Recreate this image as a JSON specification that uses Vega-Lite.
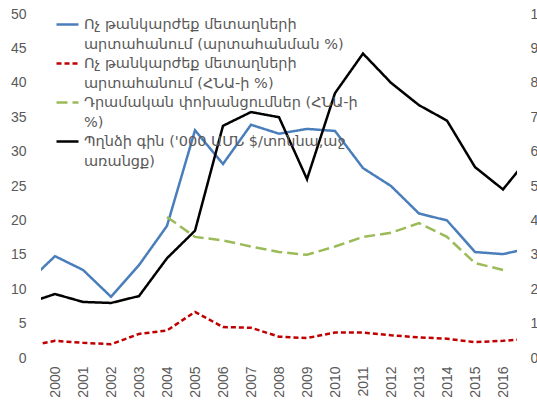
{
  "$schema": "https://vega.github.io/schema/vega-lite/v6.json",
  "width": 476,
  "height": 344,
  "autosize": {"type": "none"},
  "padding": {"left": 41, "top": 14, "right": 20, "bottom": 46},
  "background": "white",
  "config": {
    "view": {"stroke": null},
    "font": "Liberation Sans",
    "axis": {"labelColor": "#595959", "labelFontSize": 14, "labelFont": "Liberation Sans", "domain": false, "ticks": false, "grid": false, "title": null}
  },
  "data": {"values": [
    {"year": 1999, "series": "Ոչ թանկարժեք մետաղների արտահանում (արտահանման %)", "value": 10.9},
    {"year": 2000, "series": "Ոչ թանկարժեք մետաղների արտահանում (արտահանման %)", "value": 14.8},
    {"year": 2001, "series": "Ոչ թանկարժեք մետաղների արտահանում (արտահանման %)", "value": 12.8},
    {"year": 2002, "series": "Ոչ թանկարժեք մետաղների արտահանում (արտահանման %)", "value": 8.9},
    {"year": 2003, "series": "Ոչ թանկարժեք մետաղների արտահանում (արտահանման %)", "value": 13.5},
    {"year": 2004, "series": "Ոչ թանկարժեք մետաղների արտահանում (արտահանման %)", "value": 19.2},
    {"year": 2005, "series": "Ոչ թանկարժեք մետաղների արտահանում (արտահանման %)", "value": 33.1},
    {"year": 2006, "series": "Ոչ թանկարժեք մետաղների արտահանում (արտահանման %)", "value": 28.2},
    {"year": 2007, "series": "Ոչ թանկարժեք մետաղների արտահանում (արտահանման %)", "value": 33.9},
    {"year": 2008, "series": "Ոչ թանկարժեք մետաղների արտահանում (արտահանման %)", "value": 32.6},
    {"year": 2009, "series": "Ոչ թանկարժեք մետաղների արտահանում (արտահանման %)", "value": 33.3},
    {"year": 2010, "series": "Ոչ թանկարժեք մետաղների արտահանում (արտահանման %)", "value": 33.0},
    {"year": 2011, "series": "Ոչ թանկարժեք մետաղների արտահանում (արտահանման %)", "value": 27.6},
    {"year": 2012, "series": "Ոչ թանկարժեք մետաղների արտահանում (արտահանման %)", "value": 25.0},
    {"year": 2013, "series": "Ոչ թանկարժեք մետաղների արտահանում (արտահանման %)", "value": 21.0},
    {"year": 2014, "series": "Ոչ թանկարժեք մետաղների արտահանում (արտահանման %)", "value": 20.0},
    {"year": 2015, "series": "Ոչ թանկարժեք մետաղների արտահանում (արտահանման %)", "value": 15.4},
    {"year": 2016, "series": "Ոչ թանկարժեք մետաղների արտահանում (արտահանման %)", "value": 15.1},
    {"year": 2017, "series": "Ոչ թանկարժեք մետաղների արտահանում (արտահանման %)", "value": 16.0},
    {"year": 1999, "series": "Ոչ թանկարժեք մետաղների արտահանում (ՀՆԱ-ի %)", "value": 1.7},
    {"year": 2000, "series": "Ոչ թանկարժեք մետաղների արտահանում (ՀՆԱ-ի %)", "value": 2.5},
    {"year": 2001, "series": "Ոչ թանկարժեք մետաղների արտահանում (ՀՆԱ-ի %)", "value": 2.2},
    {"year": 2002, "series": "Ոչ թանկարժեք մետաղների արտահանում (ՀՆԱ-ի %)", "value": 2.0},
    {"year": 2003, "series": "Ոչ թանկարժեք մետաղների արտահանում (ՀՆԱ-ի %)", "value": 3.5},
    {"year": 2004, "series": "Ոչ թանկարժեք մետաղների արտահանում (ՀՆԱ-ի %)", "value": 4.0},
    {"year": 2005, "series": "Ոչ թանկարժեք մետաղների արտահանում (ՀՆԱ-ի %)", "value": 6.7},
    {"year": 2006, "series": "Ոչ թանկարժեք մետաղների արտահանում (ՀՆԱ-ի %)", "value": 4.5},
    {"year": 2007, "series": "Ոչ թանկարժեք մետաղների արտահանում (ՀՆԱ-ի %)", "value": 4.4},
    {"year": 2008, "series": "Ոչ թանկարժեք մետաղների արտահանում (ՀՆԱ-ի %)", "value": 3.1},
    {"year": 2009, "series": "Ոչ թանկարժեք մետաղների արտահանում (ՀՆԱ-ի %)", "value": 2.9},
    {"year": 2010, "series": "Ոչ թանկարժեք մետաղների արտահանում (ՀՆԱ-ի %)", "value": 3.7},
    {"year": 2011, "series": "Ոչ թանկարժեք մետաղների արտահանում (ՀՆԱ-ի %)", "value": 3.7},
    {"year": 2012, "series": "Ոչ թանկարժեք մետաղների արտահանում (ՀՆԱ-ի %)", "value": 3.3},
    {"year": 2013, "series": "Ոչ թանկարժեք մետաղների արտահանում (ՀՆԱ-ի %)", "value": 3.0},
    {"year": 2014, "series": "Ոչ թանկարժեք մետաղների արտահանում (ՀՆԱ-ի %)", "value": 2.8},
    {"year": 2015, "series": "Ոչ թանկարժեք մետաղների արտահանում (ՀՆԱ-ի %)", "value": 2.3},
    {"year": 2016, "series": "Ոչ թանկարժեք մետաղների արտահանում (ՀՆԱ-ի %)", "value": 2.5},
    {"year": 2017, "series": "Ոչ թանկարժեք մետաղների արտահանում (ՀՆԱ-ի %)", "value": 2.8},
    {"year": 2004, "series": "Դրամական փոխանցումներ (ՀՆԱ-ի %)", "value": 20.5},
    {"year": 2005, "series": "Դրամական փոխանցումներ (ՀՆԱ-ի %)", "value": 17.6},
    {"year": 2006, "series": "Դրամական փոխանցումներ (ՀՆԱ-ի %)", "value": 17.1},
    {"year": 2007, "series": "Դրամական փոխանցումներ (ՀՆԱ-ի %)", "value": 16.2},
    {"year": 2008, "series": "Դրամական փոխանցումներ (ՀՆԱ-ի %)", "value": 15.4},
    {"year": 2009, "series": "Դրամական փոխանցումներ (ՀՆԱ-ի %)", "value": 15.0},
    {"year": 2010, "series": "Դրամական փոխանցումներ (ՀՆԱ-ի %)", "value": 16.2},
    {"year": 2011, "series": "Դրամական փոխանցումներ (ՀՆԱ-ի %)", "value": 17.6},
    {"year": 2012, "series": "Դրամական փոխանցումներ (ՀՆԱ-ի %)", "value": 18.2},
    {"year": 2013, "series": "Դրամական փոխանցումներ (ՀՆԱ-ի %)", "value": 19.6},
    {"year": 2014, "series": "Դրամական փոխանցումներ (ՀՆԱ-ի %)", "value": 17.6},
    {"year": 2015, "series": "Դրամական փոխանցումներ (ՀՆԱ-ի %)", "value": 13.8},
    {"year": 2016, "series": "Դրամական փոխանցումներ (ՀՆԱ-ի %)", "value": 12.8},
    {"year": 1999, "series": "Պղնձի գին ('000 ԱՄՆ $/տոննա,աջ առանցք)", "value": 1.59},
    {"year": 2000, "series": "Պղնձի գին ('000 ԱՄՆ $/տոննա,աջ առանցք)", "value": 1.86},
    {"year": 2001, "series": "Պղնձի գին ('000 ԱՄՆ $/տոննա,աջ առանցք)", "value": 1.63},
    {"year": 2002, "series": "Պղնձի գին ('000 ԱՄՆ $/տոննա,աջ առանցք)", "value": 1.6},
    {"year": 2003, "series": "Պղնձի գին ('000 ԱՄՆ $/տոննա,աջ առանցք)", "value": 1.8},
    {"year": 2004, "series": "Պղնձի գին ('000 ԱՄՆ $/տոննա,աջ առանցք)", "value": 2.9},
    {"year": 2005, "series": "Պղնձի գին ('000 ԱՄՆ $/տոննա,աջ առանցք)", "value": 3.7},
    {"year": 2006, "series": "Պղնձի գին ('000 ԱՄՆ $/տոննա,աջ առանցք)", "value": 6.75},
    {"year": 2007, "series": "Պղնձի գին ('000 ԱՄՆ $/տոննա,աջ առանցք)", "value": 7.15},
    {"year": 2008, "series": "Պղնձի գին ('000 ԱՄՆ $/տոննա,աջ առանցք)", "value": 7.0},
    {"year": 2009, "series": "Պղնձի գին ('000 ԱՄՆ $/տոննա,աջ առանցք)", "value": 5.2},
    {"year": 2010, "series": "Պղնձի գին ('000 ԱՄՆ $/տոննա,աջ առանցք)", "value": 7.7},
    {"year": 2011, "series": "Պղնձի գին ('000 ԱՄՆ $/տոննա,աջ առանցք)", "value": 8.85},
    {"year": 2012, "series": "Պղնձի գին ('000 ԱՄՆ $/տոննա,աջ առանցք)", "value": 8.0},
    {"year": 2013, "series": "Պղնձի գին ('000 ԱՄՆ $/տոննա,աջ առանցք)", "value": 7.35},
    {"year": 2014, "series": "Պղնձի գին ('000 ԱՄՆ $/տոննա,աջ առանցք)", "value": 6.9},
    {"year": 2015, "series": "Պղնձի գին ('000 ԱՄՆ $/տոննա,աջ առանցք)", "value": 5.55},
    {"year": 2016, "series": "Պղնձի գին ('000 ԱՄՆ $/տոննա,աջ առանցք)", "value": 4.9},
    {"year": 2017, "series": "Պղնձի գին ('000 ԱՄՆ $/տոննա,աջ առանցք)", "value": 5.9}
  ]},
  "encoding": {
    "x": {
      "field": "year", "type": "quantitative",
      "scale": {"domain": [1999.5, 2016.5], "nice": false, "zero": false},
      "axis": {"values": [2000, 2001, 2002, 2003, 2004, 2005, 2006, 2007, 2008, 2009, 2010, 2011, 2012, 2013, 2014, 2015, 2016], "format": "d", "labelAngle": -90, "labelPadding": 8, "labelFlush": false, "labelOverlap": false}
    },
    "color": {
      "field": "series", "type": "nominal",
      "scale": {
        "domain": ["Ոչ թանկարժեք մետաղների արտահանում (արտահանման %)", "Ոչ թանկարժեք մետաղների արտահանում (ՀՆԱ-ի %)", "Դրամական փոխանցումներ (ՀՆԱ-ի %)", "Պղնձի գին ('000 ԱՄՆ $/տոննա,աջ առանցք)"],
        "range": ["#4A7EBB", "#C00000", "#9BBB59", "#000000"]
      },
      "legend": {
        "title": null, "orient": "none", "legendX": 14, "legendY": -2,
        "symbolType": "stroke", "symbolStrokeWidth": 2.5, "symbolSize": 484,
        "labelFont": "DejaVu Sans", "labelFontSize": 14.5, "labelColor": "#595959",
        "labelLimit": 400, "labelOffset": 4, "rowPadding": 0,
        "labelExpr": "indexof(datum.label, 'արտահանման') >= 0 ? ['Ոչ թանկարժեք մետաղների', 'արտահանում (արտահանման %)'] : indexof(datum.label, 'Ոչ') >= 0 ? ['Ոչ թանկարժեք մետաղների', 'արտահանում (ՀՆԱ-ի %)'] : indexof(datum.label, 'Դրամական') >= 0 ? ['Դրամական փոխանցումներ (ՀՆԱ-ի', '%)'] : ['Պղնձի գին (\\'000 ԱՄՆ $/տոննա,աջ', 'առանցք)']",
        "encode": {"labels": {"update": {"lineHeight": {"value": 20}}}}
      }
    },
    "strokeDash": {
      "field": "series", "type": "nominal",
      "scale": {
        "domain": ["Ոչ թանկարժեք մետաղների արտահանում (արտահանման %)", "Ոչ թանկարժեք մետաղների արտահանում (ՀՆԱ-ի %)", "Դրամական փոխանցումներ (ՀՆԱ-ի %)", "Պղնձի գին ('000 ԱՄՆ $/տոննա,աջ առանցք)"],
        "range": [[1, 0], [5, 3], [11, 5], [1, 0]]
      },
      "legend": null
    }
  },
  "layer": [
    {
      "transform": [{"filter": "indexof(datum.series, 'Պղնձի') < 0"}],
      "mark": {"type": "line", "clip": true, "strokeWidth": 2.5},
      "encoding": {
        "y": {"field": "value", "type": "quantitative", "scale": {"domain": [0, 50], "nice": false},
          "axis": {"values": [0, 5, 10, 15, 20, 25, 30, 35, 40, 45, 50], "labelPadding": 15}}
      }
    },
    {
      "transform": [{"filter": "indexof(datum.series, 'Պղնձի') >= 0"}],
      "mark": {"type": "line", "clip": true, "strokeWidth": 2.5},
      "encoding": {
        "y": {"field": "value", "type": "quantitative", "scale": {"domain": [0, 10], "nice": false},
          "axis": {"orient": "right", "values": [0, 1, 2, 3, 4, 5, 6, 7, 8, 9, 10], "labelPadding": 13}}
      }
    }
  ],
  "resolve": {"scale": {"y": "independent"}}
}
